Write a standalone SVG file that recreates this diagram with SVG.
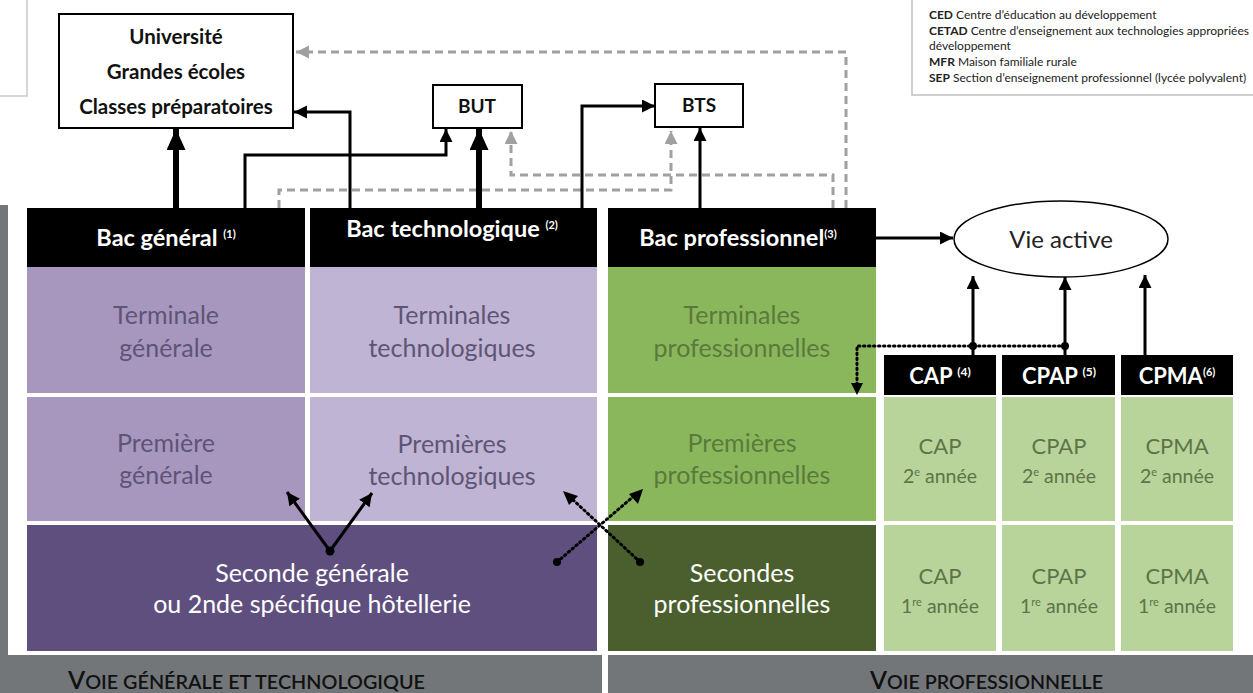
<svg xmlns="http://www.w3.org/2000/svg" width="1253" height="693" viewBox="0 0 1253 693">
<defs>
<style>
.hd{fill:#000}
.ht{font-family:Lato,"Open Sans",sans-serif;font-weight:bold;fill:#fff;text-anchor:middle}
.ct{font-family:Lato,"Open Sans",sans-serif;text-anchor:middle}
.box{fill:#fff;stroke:#000;stroke-width:2}
.bt{font-family:Lato,"Open Sans",sans-serif;font-weight:bold;text-anchor:middle;fill:#111}
.ln{fill:none;stroke:#000;stroke-width:3}
.thk{fill:none;stroke:#000;stroke-width:6}
.gd{fill:none;stroke:#a0a0a0;stroke-width:3;stroke-dasharray:8 5}
.dt{fill:none;stroke:#000;stroke-width:3;stroke-dasharray:1.5 3.5;stroke-linecap:round}
.lg{font-family:Lato,"Open Sans",sans-serif;fill:#222}
.ft{font-family:Lato,"Open Sans",sans-serif;fill:#111;font-weight:600}
</style>
<marker id="ah" markerUnits="userSpaceOnUse" markerWidth="14" markerHeight="14" refX="13" refY="6.5" orient="auto" viewBox="0 0 14 14"><path d="M0,0 L13,6.5 L0,13 z" fill="#000"/></marker>
<marker id="ahB" markerUnits="userSpaceOnUse" markerWidth="22" markerHeight="20" refX="21" refY="9.5" orient="auto" viewBox="0 0 22 20"><path d="M0,0 L21,9.5 L0,19 z" fill="#000"/></marker>
<marker id="ahG" markerUnits="userSpaceOnUse" markerWidth="14" markerHeight="14" refX="13" refY="6.5" orient="auto" viewBox="0 0 14 14"><path d="M0,0 L13,6.5 L0,13 z" fill="#a0a0a0"/></marker>
</defs>
<rect width="1253" height="693" fill="#fff"/>

<g id="bands">
<rect x="0" y="205" width="8" height="450" fill="#737679"/>
<rect x="0" y="655" width="602" height="38" fill="#737679"/>
<rect x="608" y="655" width="645" height="38" fill="#737679"/>
<text class="ft" x="68" y="689" textLength="357" lengthAdjust="spacingAndGlyphs"><tspan font-size="24">V</tspan><tspan font-size="19">OIE GÉNÉRALE ET TECHNOLOGIQUE</tspan></text>
<text class="ft" x="870" y="689" textLength="233" lengthAdjust="spacingAndGlyphs"><tspan font-size="24">V</tspan><tspan font-size="19">OIE PROFESSIONNELLE</tspan></text>
</g>

<g id="legend-left"><rect x="-10" y="-10" width="37" height="106" fill="#fff" stroke="#c8c8c8" stroke-width="1.5"/></g>
<g id="legend-right" font-size="12">
<rect x="912" y="-10" width="360" height="105" fill="#fff" stroke="#c0c0c0" stroke-width="1.5"/>
<text class="lg" x="929" y="19"><tspan font-weight="bold">CED</tspan> Centre d’éducation au développement</text>
<text class="lg" x="929" y="35"><tspan font-weight="bold">CETAD</tspan>  Centre d’enseignement aux technologies appropriées</text>
<text class="lg" x="929" y="50">développement</text>
<text class="lg" x="929" y="66"><tspan font-weight="bold">MFR</tspan>  Maison familiale rurale</text>
<text class="lg" x="929" y="82"><tspan font-weight="bold">SEP</tspan> Section d’enseignement professionnel (lycée polyvalent)</text>
</g>

<g id="bac-general">
<rect class="hd" x="27" y="208" width="278" height="59"/>
<text class="ht" x="166" y="246" font-size="23.5">Bac général <tspan font-size="11" dy="-8">(1)</tspan></text>
</g>
<g id="terminale-generale" font-size="25">
<rect x="27" y="267" width="278" height="126" fill="#a797bf"/>
<text class="ct" fill="#5e5476" x="166" y="324">Terminale</text>
<text class="ct" fill="#5e5476" x="166" y="357">générale</text>
</g>
<g id="premiere-generale" font-size="25">
<rect x="27" y="397" width="278" height="124" fill="#a797bf"/>
<text class="ct" fill="#5e5476" x="166" y="452">Première</text>
<text class="ct" fill="#5e5476" x="166" y="484">générale</text>
</g>
<g id="bac-techno">
<rect class="hd" x="310" y="208" width="287" height="59"/>
<text class="ht" x="452" y="237" font-size="23.5">Bac technologique <tspan font-size="11" dy="-8">(2)</tspan></text>
</g>
<g id="terminales-techno" font-size="25">
<rect x="310" y="267" width="287" height="126" fill="#bfb4d3"/>
<text class="ct" fill="#5e5476" x="452" y="324">Terminales</text>
<text class="ct" fill="#5e5476" x="452" y="357">technologiques</text>
</g>
<g id="premieres-techno" font-size="25">
<rect x="310" y="397" width="287" height="124" fill="#bfb4d3"/>
<text class="ct" fill="#5e5476" x="452" y="453">Premières</text>
<text class="ct" fill="#5e5476" x="452" y="485">technologiques</text>
</g>
<g id="seconde-generale" font-size="25">
<rect x="27" y="525" width="570" height="126" fill="#5f4f7f"/>
<text class="ct" fill="#fff" x="312" y="582">Seconde générale</text>
<text class="ct" fill="#fff" x="312" y="613">ou 2nde spécifique hôtellerie</text>
</g>

<g id="bac-pro">
<rect class="hd" x="608" y="208" width="268" height="59"/>
<text class="ht" x="738" y="246" font-size="23.5">Bac professionnel<tspan font-size="11" dy="-8">(3)</tspan></text>
</g>
<g id="terminales-pro" font-size="25">
<rect x="608" y="267" width="268" height="126" fill="#8bb75c"/>
<text class="ct" fill="#5a7a3c" x="742" y="324">Terminales</text>
<text class="ct" fill="#5a7a3c" x="742" y="357">professionnelles</text>
</g>
<g id="premieres-pro" font-size="25">
<rect x="608" y="397" width="268" height="124" fill="#8bb75c"/>
<text class="ct" fill="#5a7a3c" x="742" y="452">Premières</text>
<text class="ct" fill="#5a7a3c" x="742" y="484">professionnelles</text>
</g>
<g id="secondes-pro" font-size="25">
<rect x="608" y="525" width="268" height="126" fill="#4a5e2e"/>
<text class="ct" fill="#fff" x="742" y="582">Secondes</text>
<text class="ct" fill="#fff" x="742" y="613">professionnelles</text>
</g>

<g id="cap">
<rect class="hd" x="884" y="355" width="112" height="40"/>
<text class="ht" x="940" y="384" font-size="22">CAP <tspan font-size="12" dy="-8">(4)</tspan></text>
<rect x="884" y="397" width="112" height="124" fill="#b8d49b"/>
<text class="ct" fill="#5e7448" x="940" y="454" font-size="22">CAP</text>
<text class="ct" fill="#5e7448" x="940" y="483" font-size="19.5">2<tspan font-size="11" dy="-7">e</tspan><tspan dy="7"> année</tspan></text>
<rect x="884" y="525" width="112" height="126" fill="#b8d49b"/>
<text class="ct" fill="#5e7448" x="940" y="584" font-size="22">CAP</text>
<text class="ct" fill="#5e7448" x="940" y="613" font-size="19.5">1<tspan font-size="11" dy="-7">re</tspan><tspan dy="7"> année</tspan></text>
</g>
<g id="cpap">
<rect class="hd" x="1002" y="355" width="113" height="40"/>
<text class="ht" x="1059" y="384" font-size="22">CPAP <tspan font-size="12" dy="-8">(5)</tspan></text>
<rect x="1002" y="397" width="113" height="124" fill="#b8d49b"/>
<text class="ct" fill="#5e7448" x="1059" y="454" font-size="22">CPAP</text>
<text class="ct" fill="#5e7448" x="1059" y="483" font-size="19.5">2<tspan font-size="11" dy="-7">e</tspan><tspan dy="7"> année</tspan></text>
<rect x="1002" y="525" width="113" height="126" fill="#b8d49b"/>
<text class="ct" fill="#5e7448" x="1059" y="584" font-size="22">CPAP</text>
<text class="ct" fill="#5e7448" x="1059" y="613" font-size="19.5">1<tspan font-size="11" dy="-7">re</tspan><tspan dy="7"> année</tspan></text>
</g>
<g id="cpma">
<rect class="hd" x="1121" y="355" width="112" height="40"/>
<text class="ht" x="1177" y="384" font-size="22">CPMA<tspan font-size="11" dy="-8">(6)</tspan></text>
<rect x="1121" y="397" width="112" height="124" fill="#b8d49b"/>
<text class="ct" fill="#5e7448" x="1177" y="454" font-size="22">CPMA</text>
<text class="ct" fill="#5e7448" x="1177" y="483" font-size="19.5">2<tspan font-size="11" dy="-7">e</tspan><tspan dy="7"> année</tspan></text>
<rect x="1121" y="525" width="112" height="126" fill="#b8d49b"/>
<text class="ct" fill="#5e7448" x="1177" y="584" font-size="22">CPMA</text>
<text class="ct" fill="#5e7448" x="1177" y="613" font-size="19.5">1<tspan font-size="11" dy="-7">re</tspan><tspan dy="7"> année</tspan></text>
</g>

<g id="universite" font-size="20.5">
<rect class="box" x="59" y="14" width="234" height="114"/>
<text class="bt" x="176" y="44">Université</text>
<text class="bt" x="176" y="79">Grandes écoles</text>
<text class="bt" x="176" y="114">Classes préparatoires</text>
</g>
<g id="but" font-size="19">
<rect class="box" x="433" y="85" width="89" height="43"/>
<text class="bt" x="477" y="113">BUT</text>
</g>
<g id="bts" font-size="19">
<rect class="box" x="655" y="84" width="88" height="43"/>
<text class="bt" x="699" y="112">BTS</text>
</g>
<g id="vie-active">
<ellipse cx="1061" cy="239" rx="107" ry="38" fill="#fff" stroke="#000" stroke-width="1.5"/>
<text x="1061" y="248" font-family="Lato,'Open Sans',sans-serif" font-size="24" text-anchor="middle" fill="#222">Vie active</text>
</g>

<g id="connectors">
<path class="gd" d="M279,208 V190 H671 V131" marker-end="url(#ahG)"/>
<path class="gd" d="M833,208 V175 H511 V131" marker-end="url(#ahG)"/>
<path class="gd" d="M846,208 V52 H296" marker-end="url(#ahG)"/>
<path class="thk" d="M176,208 V129" marker-end="url(#ahB)"/>
<path class="ln" d="M245,208 V155 H446 V129" marker-end="url(#ah)"/>
<path class="ln" d="M350,208 V112 H294" marker-end="url(#ah)"/>
<path class="thk" d="M479,208 V129" marker-end="url(#ahB)"/>
<path class="ln" d="M582,208 V106 H655" marker-end="url(#ah)"/>
<path class="ln" d="M700,208 V128" marker-end="url(#ah)"/>
<path class="ln" d="M876,238 H953" stroke-width="3.5" marker-end="url(#ah)"/>
<path class="ln" d="M973,355 V276" marker-end="url(#ah)"/>
<path class="ln" d="M1065,355 V277" marker-end="url(#ah)"/>
<path class="ln" d="M1145,355 V275" marker-end="url(#ah)"/>
<path class="dt" d="M1065,346 H857 V384"/>
<path d="M851,383 L863,383 L857,395 z" fill="#000"/>
<circle cx="973" cy="346" r="4" fill="#000"/>
<circle cx="1065" cy="346" r="4" fill="#000"/>
<path class="ln" d="M330,551 L287,492" marker-end="url(#ah)"/>
<path class="ln" d="M330,551 L372,493" marker-end="url(#ah)"/>
<circle cx="330" cy="551" r="4.5" fill="#000"/>
<path class="dt" d="M557,562 L634,496"/>
<path d="M643,489 L638,504 L629,494 z" fill="#000"/>
<path class="dt" d="M640,562 L571,498"/>
<path d="M563,491 L578,496 L569,505 z" fill="#000"/>
<circle cx="557" cy="562" r="4" fill="#000"/>
<circle cx="640" cy="562" r="4" fill="#000"/>
</g>
</svg>
